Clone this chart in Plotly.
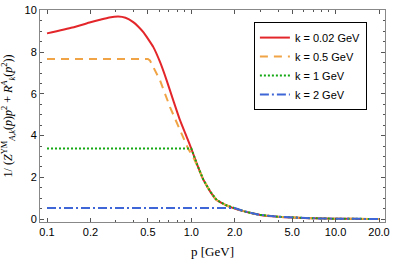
import plotly.graph_objects as go

# momentum grid (GeV) and curves
p_red = [0.1, 0.15, 0.2, 0.233, 0.27, 0.312, 0.35, 0.396, 0.43, 0.465, 0.5, 0.546, 0.607, 0.675, 0.75, 0.835, 0.929, 1.0, 1.1, 1.21, 1.35, 1.5, 1.75, 2.0, 2.3, 2.6, 3.0, 4.0, 5.0, 7.0, 10.0, 15.0, 20.0]
v_red = [8.9, 9.18, 9.43, 9.55, 9.66, 9.71, 9.65, 9.44, 9.22, 8.96, 8.65, 8.24, 7.53, 6.65, 5.69, 4.74, 3.94, 3.38, 2.6, 1.9, 1.33, 0.91, 0.66, 0.51, 0.38, 0.29, 0.2, 0.11, 0.07, 0.038, 0.018, 0.008, 0.005]

p_orange = [0.1, 0.5, 0.517, 0.607, 0.712, 0.835, 0.95, 1.03, 1.12, 1.21, 1.35, 1.5, 1.75, 2.0, 2.3, 2.6, 3.0, 4.0, 5.0, 7.0, 10.0, 15.0, 20.0]
v_orange = [7.67, 7.67, 7.6, 6.65, 5.37, 4.26, 3.38, 2.98, 2.45, 1.92, 1.33, 0.91, 0.66, 0.51, 0.38, 0.29, 0.2, 0.11, 0.07, 0.038, 0.018, 0.008, 0.005]

p_green = [0.1, 1.0, 1.1, 1.21, 1.35, 1.5, 1.75, 2.0, 2.3, 2.6, 3.0, 4.0, 5.0, 7.0, 10.0, 15.0, 20.0]
v_green = [3.38, 3.38, 2.6, 1.9, 1.33, 0.91, 0.66, 0.51, 0.38, 0.29, 0.2, 0.11, 0.07, 0.038, 0.018, 0.008, 0.005]

p_blue = [0.1, 2.0, 2.3, 2.6, 3.0, 4.0, 5.0, 7.0, 10.0, 15.0, 20.0]
v_blue = [0.53, 0.53, 0.38, 0.29, 0.2, 0.11, 0.07, 0.038, 0.018, 0.008, 0.005]

labels = ["k = 0.02 GeV", "k = 0.5 GeV", "k = 1 GeV", "k = 2 GeV"]

x_tickvals = [0.1, 0.2, 0.5, 1.0, 2.0, 5.0, 10.0, 20.0]
x_ticktext = ["0.1", "0.2", "0.5", "1.0", "2.0", "5.0", "10.0", "20.0"]
x_minor = [0.3, 0.4, 0.6, 0.7, 0.8, 0.9, 3, 4, 6, 7, 8, 9]
y_tickvals = [0, 2, 4, 6, 8, 10]

fig = go.Figure()
fig.add_trace(go.Scatter(x=p_red, y=v_red, mode="lines", name=labels[0],
                         line=dict(color="#E3262A", width=2, shape="spline", smoothing=0.5)))
fig.add_trace(go.Scatter(x=p_orange, y=v_orange, mode="lines", name=labels[1],
                         line=dict(color="#F0A445", width=2, dash="8px,6px")))
fig.add_trace(go.Scatter(x=p_green, y=v_green, mode="lines", name=labels[2],
                         line=dict(color="#14A814", width=2, dash="2px,2px")))
fig.add_trace(go.Scatter(x=p_blue, y=v_blue, mode="lines", name=labels[3],
                         line=dict(color="#3F66D6", width=2, dash="9px,3px,2px,3px")))

axis_common = dict(showgrid=False, zeroline=False, showline=True, linecolor="#888888",
                   linewidth=1, mirror="ticks", ticks="inside", ticklen=4, automargin=False,
                   ticklabeloverflow="allow",
                   tickcolor="#555555", tickfont=dict(family="Liberation Sans, Arial", size=11, color="black"))

fig.update_xaxes(type="log", range=[-1.0485, 1.3426], tickmode="array",
                 tickvals=x_tickvals, ticktext=x_ticktext,
                 minor=dict(tickmode="array", tickvals=x_minor, ticks="inside", ticklen=2, tickcolor="#555555"),
                 title=dict(text="p [GeV]", font=dict(family="Liberation Serif, Times New Roman", size=13, color="black")),
                 **axis_common)
fig.update_yaxes(range=[-0.14, 10.02], tickmode="array", tickvals=y_tickvals,
                 minor=dict(tickmode="linear", tick0=0, dtick=0.5, ticks="inside", ticklen=2, tickcolor="#555555"),
                 title=dict(text="1/ (<i>Z</i><sup>YM</sup><sub><i>A,k</i></sub>(<i>p</i>)<i>p</i><sup>2</sup> + <i>R</i><sup><i>A</i></sup><sub><i>k</i></sub>(<i>p</i><sup>2</sup>))",
                            font=dict(family="Liberation Serif, Times New Roman", size=12, color="black")),
                 **axis_common)

fig.update_layout(
    width=394, height=259,
    margin=dict(l=40, r=9, t=10, b=37),
    plot_bgcolor="white", paper_bgcolor="white",
    legend=dict(x=0.62, y=0.943, xanchor="left", yanchor="top",
                bordercolor="black", borderwidth=1, bgcolor="white",
                font=dict(family="Liberation Sans, Arial", size=11, color="black"),
                tracegroupgap=0, itemwidth=30),
    showlegend=True,
)

fig.write_html("out.html", config={"displayModeBar": False},
               post_script="document.body.style.margin='0';document.body.style.overflow='hidden';")
